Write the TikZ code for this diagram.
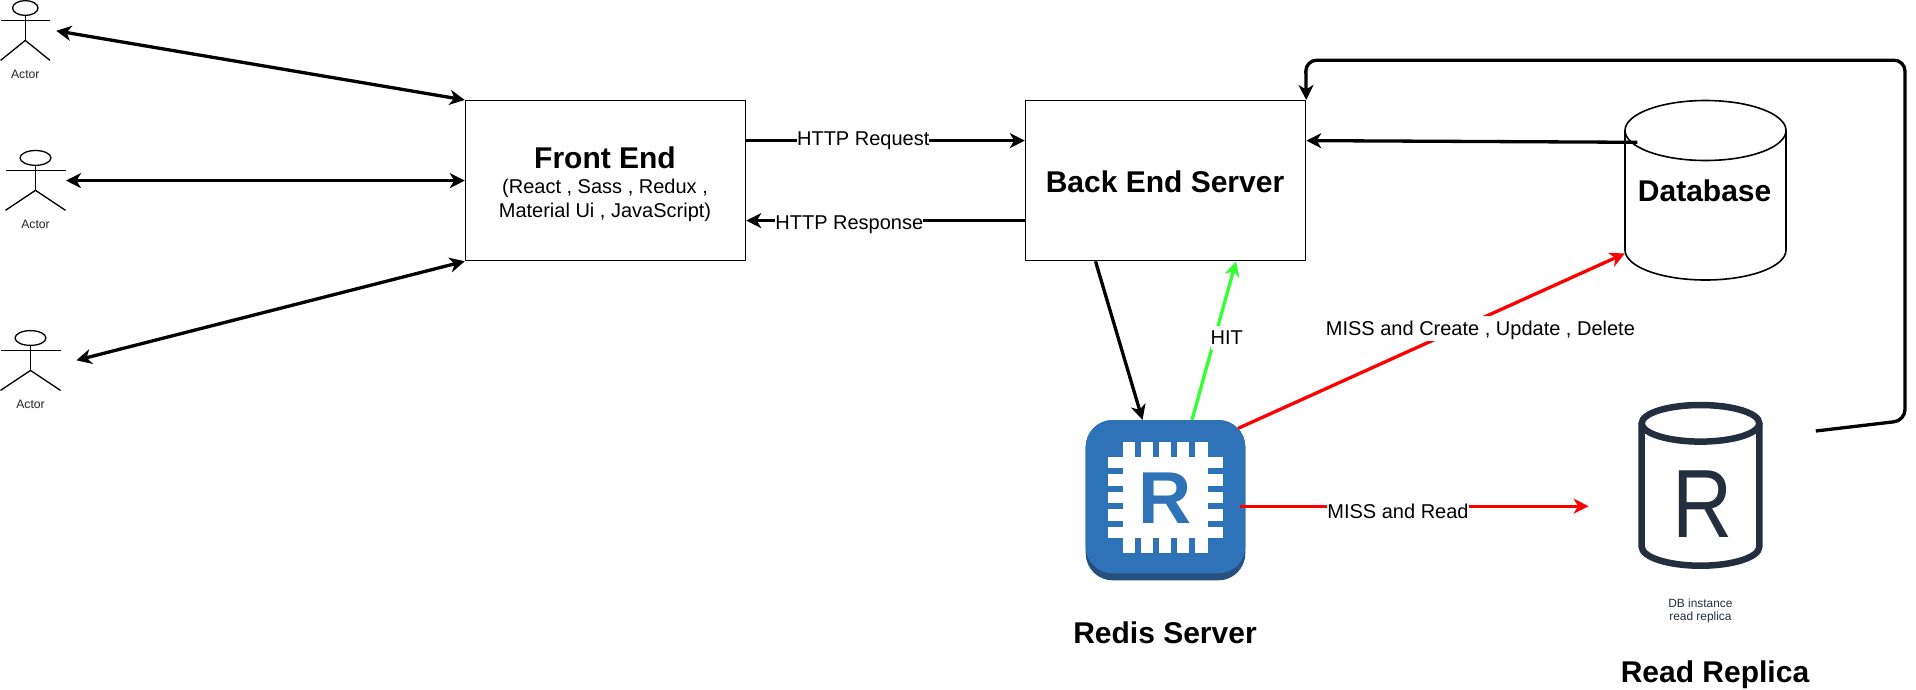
\documentclass[tikz,border=0pt]{standalone}
\usepackage{fontspec}
\setmainfont{Liberation Sans}
\usetikzlibrary{arrows.meta,calc,shapes.geometric}
\definecolor{redisblue}{HTML}{2E73B8}
\definecolor{redisdark}{HTML}{25507F}
\definecolor{awsink}{HTML}{232F3E}
\definecolor{hitgreen}{HTML}{33FF33}
\newcommand{\fs}[1]{\fontsize{#1}{#1}\selectfont}
% name, centre x, top y, half width
\newcommand{\actorfig}[4]{%
  \begin{scope}[shift={(#2,#3)}]
    \node[actorhead,minimum width={#4*1.03pt}] (#1) at (0,7.6) {};
    \draw[actorline] (-#4,20) -- (#4,20);
    \draw[actorline] (#1.south) -- (0,40);
    \draw[actorline] (-#4,60) -- (0,40) -- (#4,60);
    \node[actorlabel] (#1label) at (0,74) {Actor};
  \end{scope}}
\tikzset{
  x=1pt,y=-1pt,
  actorhead/.style={draw=black,ellipse,inner sep=0pt,minimum height=14.8pt,line width=1.3pt},
  actorline/.style={draw=black,line width=1.3pt},
  actorlabel/.style={font=\fs{12.2},inner sep=0pt,text=black!85},
  boxnode/.style={draw=black,line width=1.3pt,minimum width=280.2pt,minimum height=160pt,inner sep=0pt,align=center},
  ghost/.style={inner sep=0pt},
  conn/.style={line width=3.3pt,black,-{Stealth[length=15pt,width=15pt,inset=4.5pt]}},
  both/.style={conn,{Stealth[length=15pt,width=15pt,inset=4.5pt]}-{Stealth[length=15pt,width=15pt,inset=4.5pt]}},
  cl/.style={fill=white,font=\fs{20},inner sep=0pt,minimum height=24pt,text depth=0pt},
  title/.style={font=\bfseries\fs{30},inner sep=0pt},
}
\begin{document}
\begin{tikzpicture}
\useasboundingbox (0,0) rectangle (1916,689);
\fill[white] (0,0) rectangle (1916,689);

% actors
\actorfig{actorA}{25.3}{0.4}{24.7}
\actorfig{actorB}{35.5}{150.3}{30}
\actorfig{actorC}{30.5}{330.4}{30}
\coordinate (aA) at (56.2,30.8);
\coordinate (aB) at (66,180.6);
\coordinate (aC) at (76.4,360.3);

% boxes
\node[boxnode] (fe) at (605.5,180.6) {};
\node[title] (fetitle) at (605,157.6) {Front End};
\node[font=\fs{20},inner sep=0pt] (fesubA) at (605,188.4) {(React , Sass , Redux ,};
\node[font=\fs{20},inner sep=0pt] (fesubB) at (605,212.2) {Material Ui , JavaScript)};
\node[boxnode] (be) at (1165.5,180.6) {};
\node[title] (betitle) at (1165,181.4) {Back End Server};

% database
\node[ghost,minimum width=161pt,minimum height=179.4pt] (db) at (1705.5,190.3) {};
\draw[line width=1.6pt] (1625,130.5) -- (1625,250)
  .. controls (1625,266.6) and (1661,280) .. (1705.5,280)
  .. controls (1750,280) and (1786,266.6) .. (1786,250) -- (1786,130.5);
\draw[line width=1.6pt] (1705.5,130.5) ellipse [x radius=80.5,y radius=30];
\node[title] (dbtitle) at (1704.6,191) {Database};

% redis icon
\node[fill=redisdark,rounded corners=27pt,minimum width=159.6pt,minimum height=160.3pt,inner sep=0pt] (redis) at (1165.5,500.2) {};
\fill[redisblue,rounded corners=27pt] (1085.7,420) rectangle (1245.3,573.3);
\fill[white] (1108.3,457.3) rectangle (1223,537.7);
\fill[white] (1123.3,442.3) rectangle (1207.7,552.7);
\foreach \a in {75.3,93.3,111.3,129.3} {
  \fill[redisblue] (1060+\a,442) rectangle (1060+\a+6,457.3);
  \fill[redisblue] (1060+\a,537.7) rectangle (1060+\a+6,553);
}
\foreach \a in {68.3,86,103.3,120.7} {
  \fill[redisblue] (1108,400+\a) rectangle (1123.3,400+\a+6);
  \fill[redisblue] (1207.7,400+\a) rectangle (1223.2,400+\a+6);
}
\node[font=\bfseries\fs{73.6},text=redisblue,inner sep=0pt] (redisR) at (1164.7,497.7) {R};
\node[title] (redistitle) at (1165,632.4) {Redis Server};

% replica icon
\node[ghost,minimum width=124.4pt,minimum height=167.3pt] (rep) at (1700.5,485.3) {};
\draw[awsink,line width=6.5pt] (1641.7,423.3) -- (1641.7,546.7)
  .. controls (1641.7,557.2) and (1668,565.7) .. (1700.5,565.7)
  .. controls (1733,565.7) and (1759.3,557.2) .. (1759.3,546.7) -- (1759.3,423.3);
\draw[awsink,line width=6.5pt] (1700.5,423.3) ellipse [x radius=58.8,y radius=18.3];
\node[font=\fs{97},text=awsink,inner sep=0pt,xscale=.86] (repR) at (1702.5,504.2) {R};
\node[font=\fs{11.9},text=awsink,inner sep=0pt] (repA) at (1700.4,603.7) {DB instance};
\node[font=\fs{11.9},text=awsink,inner sep=0pt] (repB) at (1700.4,617.8) {read replica};
\node[title] (reptitle) at (1715,674.6) {Read Replica};

% connectors
\draw[both] (aA) -- (fe.north west);
\draw[both] (aB) -- (fe.west);
\draw[both] (aC) -- (fe.south west);

\draw[conn] ([yshift=40pt]fe.east) -- node[cl,pos=.42,yshift=2pt] (lreq) {HTTP Request} ([yshift=40pt]be.west);
\draw[conn] ([yshift=-40pt]be.west) -- node[cl,pos=.63,yshift=-2pt] (lres) {HTTP Response} ([yshift=-40pt]fe.east);

\draw[conn] ([xshift=-70pt]be.south) -- ([xshift=-23pt]redis.north);
\draw[conn,draw=hitgreen,fill=hitgreen] ([xshift=26.5pt]redis.north) -- ([xshift=70.5pt]be.south);
\node[cl] (lhit) at (1226.8,337.5) {HIT};

\draw[conn,red] ([xshift=-7.5pt,yshift=71.8pt]redis.east) -- ([yshift=-63.2pt]db.west);
\node[cl,minimum height=25pt] (lmcud) at (1480.4,328.2) {MISS and Create , Update , Delete};

\coordinate (repin) at (1588.6,506.2);
\draw[conn,red] ([xshift=-6pt,yshift=-6pt]redis.east) -- (repin);
\node[cl] (lread) at (1398,511) {MISS and Read};

\draw[conn] ([xshift=12.6pt,yshift=48pt]db.west) -- ([yshift=40pt]be.east);

\coordinate (repout) at (1815.8,431);
\coordinate (cornerA) at (1905,420.5);
\coordinate (cornerB) at (1905,60.2);
\coordinate (cornerC) at (1305.7,60.2);
\draw[conn,rounded corners=11pt] (repout) -- (cornerA) -- (cornerB) -- (cornerC) -- (be.north east);
\end{tikzpicture}
\end{document}
